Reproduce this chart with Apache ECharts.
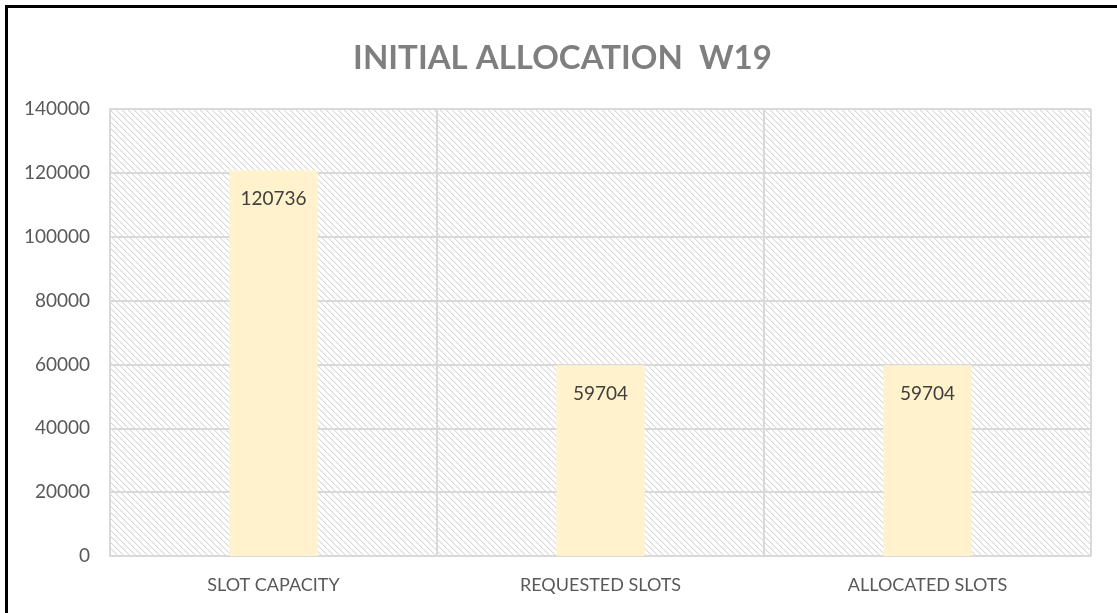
<!DOCTYPE html>
<html>
<head>
<meta charset="utf-8">
<script src="https://cdn.jsdelivr.net/npm/echarts@6/dist/echarts.min.js"></script>
<style>
  html, body { margin: 0; padding: 0; background: #fff; }
  #frame {
    position: absolute; left: 5px; top: 5px;
    width: 1112px; height: 608px;
    border-top: 3px solid #000; border-left: 3px solid #000;
  }
  #chart { width: 1109px; height: 605px; }
</style>
</head>
<body>
<div id="frame"><div id="chart"></div></div>
<script>
const categories = ['SLOT CAPACITY', 'REQUESTED SLOTS', 'ALLOCATED SLOTS'];
const slotValues = [120736, 59704, 59704];
const yTicks = [0, 20000, 40000, 60000, 80000, 100000, 120000, 140000];

// diagonal hatch for the plot area
function makeHatch() {
  let n = 6;
  let c = document.createElement('canvas');
  c.width = n; c.height = n;
  let ctx = c.getContext('2d');
  ctx.fillStyle = '#ffffff';
  ctx.fillRect(0, 0, n, n);
  for (let i = 0; i < n; i++) {
    ctx.fillStyle = '#d9d9d9';
    ctx.fillRect(i, i, 1, 1);
    ctx.fillStyle = '#f0f0f0';
    ctx.fillRect((i + 1) % n, i, 1, 1);
  }
  return c;
}

let options = {
  animation: false,
  title: {
    text: 'INITIAL ALLOCATION  W19',
    left: 'center',
    top: 29,
    textStyle: {
      fontFamily: 'Lato',
      fontWeight: 'bold',
      fontSize: 33,
      color: '#7f7f7f'
    }
  },
  grid: {
    left: 102,
    right: 26,
    top: 101,
    bottom: 57,
    show: true,
    borderWidth: 0,
    backgroundColor: { image: makeHatch(), repeat: 'repeat' }
  },
  xAxis: {
    type: 'category',
    data: categories,
    axisTick: { show: false },
    axisLine: { lineStyle: { color: '#d9d9d9', width: 2 } },
    splitLine: { show: true, lineStyle: { color: '#d9d9d9', width: 2 } },
    axisLabel: {
      color: '#595959', fontSize: 18, fontFamily: 'Lato', margin: 20
    }
  },
  yAxis: {
    type: 'value',
    min: yTicks[0],
    max: yTicks[yTicks.length - 1],
    interval: yTicks[1] - yTicks[0],
    axisLine: { show: true, lineStyle: { color: '#d9d9d9', width: 2 } },
    axisTick: { show: false },
    splitLine: { lineStyle: { color: '#d9d9d9', width: 2 } },
    axisLabel: {
      color: '#595959', fontSize: 19, fontFamily: 'Lato', margin: 20,
      formatter: v => String(v)
    }
  },
  series: [
    {
      type: 'bar',
      data: slotValues,
      barWidth: '27%',
      itemStyle: { color: '#fff2cc' },
      label: {
        show: true,
        position: 'insideTop',
        distance: 19,
        color: '#404040',
        fontSize: 19,
        fontFamily: 'Lato'
      }
    }
  ]
};
let myChart = echarts.init(document.getElementById('chart'));
myChart.setOption(options);
</script>
</body>
</html>
